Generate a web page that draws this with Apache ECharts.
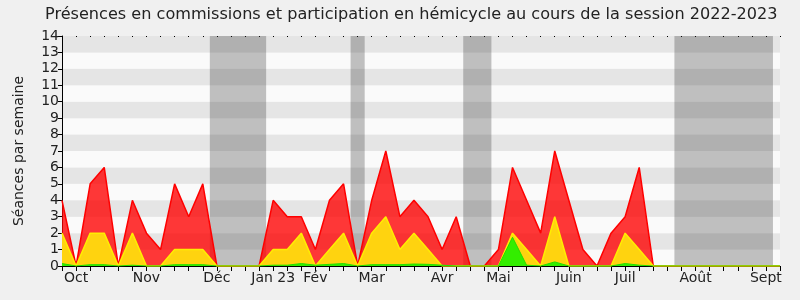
<!DOCTYPE html>
<html>
<head>
<meta charset="utf-8">
<script src="https://cdn.jsdelivr.net/npm/echarts@6/dist/echarts.min.js"></script>
<style>html,body{margin:0;padding:0;background:#f0f0f0;}#c{width:800px;height:300px;}</style>
</head>
<body>
<div id="c"></div>
<script>
// Week index 0..51 (weekly points of the 2022-2023 session)
var monthLabels = {1:'Oct', 6:'Nov', 11:'Déc', 15:'Jan 23', 18:'Fév', 22:'Mar', 27:'Avr', 31:'Mai', 36:'Juin', 40:'Juil', 45:'Août', 50:'Sept'};
var weekCount = 52;
var redValues = [4,0,5,6,0,4,2,1,5,3,5,0, 0,0,0, 4,3,3,1,4,5,0, 4,7,3,4,3,1,3,0, 0,1,6,4,2,7,4,1,0, 2,3,6,0, 0,0,0,0,0,0,0,0,0];
var yellowValues = [2,0,2,2,0,2,0,0,1,1,1,0, 0,0,0, 1,1,2,0,1,2,0, 2,3,1,2,1,0,0,0, 0,0,2,1,0,3,0,0,0, 0,2,1,0, 0,0,0,0,0,0,0,0,0];
var greenValues = [0.15,0,0.08,0.08,0,0.05,0,0,0.08,0.08,0.08,0, 0,0,0, 0.05,0.05,0.15,0.05,0.1,0.15,0, 0.08,0.08,0.08,0.12,0.1,0.05,0,0, 0,0,1.75,0.05,0,0.25,0,0,0, 0,0.15,0.05,0, 0,0,0,0,0,0,0,0,0];
var vacations = [[10.5,14.5],[20.5,21.5],[28.5,30.5],[43.5,50.5]];
var yTicks = [0,1,2,3,4,5,6,7,8,9,10,11,12,13,14];

function pairs(arr){ return arr.map(function(v,i){ return [i, v]; }); }

var FONT = 'DejaVu Sans';
var chart = echarts.init(document.getElementById('c'), null, {renderer:'canvas'});
chart.setOption({
  backgroundColor: '#f0f0f0',
  animation: false,
  title: {
    text: 'Présences en commissions et participation en hémicycle au cours de la session 2022-2023',
    left: 40, top: 2,
    textStyle: {fontFamily: FONT, fontSize: 16.1, fontWeight: 'normal', color: '#222'}
  },
  grid: {left: 62, right: 20, top: 36, bottom: 34},
  xAxis: [{
    type: 'value', min: 0, max: weekCount - 1, interval: 1,
    axisLine: {show: true, lineStyle: {color: '#000', width: 1}},
    axisTick: {show: true, length: 5, lineStyle: {color: '#000'}},
    axisLabel: {
      fontFamily: FONT, fontSize: 14, color: '#222', margin: 5,
      showMinLabel: true, showMaxLabel: true,
      formatter: function(v){ return monthLabels[v] || ''; }
    },
    splitLine: {show: false}
  }, {
    type: 'value', min: 0, max: weekCount - 1, interval: 1, position: 'top',
    axisLine: {show: false},
    axisTick: {show: true, inside: true, length: 1, lineStyle: {color: '#000'}},
    axisLabel: {show: false}, splitLine: {show: false}
  }],
  yAxis: {
    type: 'value', min: 0, max: 14, interval: 1,
    name: 'Séances par semaine', nameLocation: 'middle', nameGap: 36,
    nameTextStyle: {fontFamily: FONT, fontSize: 14, color: '#222'},
    axisLine: {show: true, lineStyle: {color: '#000'}},
    axisTick: {show: true, length: 4, lineStyle: {color: '#000'}},
    axisLabel: {fontFamily: FONT, fontSize: 14, color: '#222', margin: 3,
      formatter: function(v){ return yTicks.indexOf(v) >= 0 ? String(v) : ''; }},
    splitLine: {show: false},
    splitArea: {show: true, areaStyle: {color: ['#fafafa', '#e5e5e5']}}
  },
  series: [{
    type: 'line', name: 'vacances', data: [], silent: true, z: 1,
    markArea: {silent: true, itemStyle: {color: 'rgba(40,40,40,0.28)'},
      data: vacations.map(function(b){ return [{xAxis: b[0], yAxis: 0}, {xAxis: b[1], yAxis: 14}]; })}
  }, {
    type: 'line', name: 'total', data: pairs(redValues), symbol: 'none', z: 2,
    lineStyle: {color: '#ff0000', width: 1.5},
    areaStyle: {color: 'rgba(255,0,0,0.78)', opacity: 1}
  }, {
    type: 'line', name: 'commissions', data: pairs(yellowValues), symbol: 'none', z: 3,
    lineStyle: {color: '#ffee00', width: 1.5},
    areaStyle: {color: '#ffd30f', opacity: 1}
  }, {
    type: 'line', name: 'hémicycle', data: pairs(greenValues), symbol: 'none', z: 4,
    lineStyle: {color: '#22dd00', width: 1},
    areaStyle: {color: '#33ee00', opacity: 1}
  }]
});
</script>
</body>
</html>
